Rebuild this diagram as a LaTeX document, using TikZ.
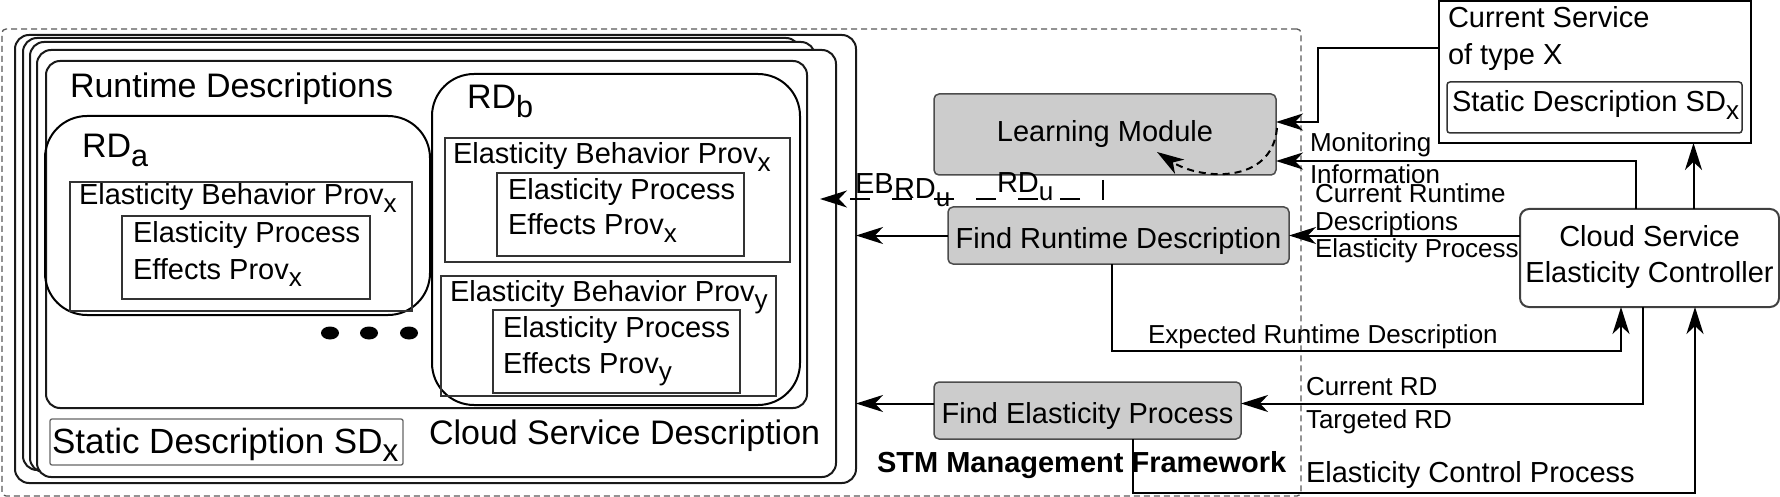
\documentclass[tikz,border=0pt]{standalone}
\usepackage{fontspec}
\setmainfont{Liberation Sans}
\usepackage{graphicx}
\usetikzlibrary{arrows.meta,calc}
\newcommand{\sbs}[1]{\raisebox{-0.25em}{\scalebox{0.9}{#1}}}
\newcommand{\mkbox}[6]{\node[#1,anchor=north west,minimum width={((#5)-(#3))*1pt},minimum height={((#6)-(#4))*1pt}] (#2) at (#3,#4) {};}
\begin{document}
\begin{tikzpicture}[x=1pt,y=-1pt,
  every node/.style={inner sep=0pt,outer sep=0pt},
  frame/.style={draw=black!90,line width=2pt,fill=white,rounded corners=14pt},
  rdshape/.style={draw=black,line width=2pt,rounded corners=42pt},
  ibox/.style={draw=black!80,line width=1.5pt},
  gbox/.style={draw=black!70,line width=1.5pt,fill=black!20,rounded corners=5pt},
  wbox/.style={draw=black!75,line width=2pt,fill=white,rounded corners=9pt},
  conn/.style={line width=2pt,draw=black},
  arr/.style={conn,-{Stealth[length=27pt,width=17pt,inset=8pt]}},
  txt/.style={anchor=base west,font=\fontsize{29}{35}\selectfont},
  ctxt/.style={anchor=base,font=\fontsize{29}{35}\selectfont},
  bigtxt/.style={anchor=base west,font=\fontsize{34}{40}\selectfont},
  lab/.style={anchor=base west,font=\fontsize{26}{31}\selectfont}
]
\useasboundingbox (0,0) rectangle (1780,497);
% outer dashed frame
\mkbox{draw=black!65,line width=1.3pt,dash pattern=on 6pt off 4pt,rounded corners=4pt}{stm}{2}{29}{1301}{496}
% stacked cloud service descriptions
\mkbox{frame}{csdA}{15}{35}{856}{483}
\mkbox{frame}{csdB}{23}{38}{800}{470}
\mkbox{frame}{csdC}{30}{42}{815}{472}
\mkbox{frame}{csdD}{37}{50}{836}{477}
\mkbox{frame}{rdall}{46}{61}{807}{408}
\node[bigtxt] (trd) at (70,98) {Runtime Descriptions};
% RD_a
\mkbox{rdshape}{rda}{45}{116}{430}{315}
\node[bigtxt] (trda) at (82,158) {RD\sbs{a}};
\mkbox{ibox}{ebxa}{70}{182}{412}{311}
\node[txt] (tebxa) at (79,205) {Elasticity Behavior Prov\sbs{x}};
\mkbox{ibox}{epxa}{122}{216}{370}{299}
\node[txt] (tepxa1) at (133,242) {Elasticity Process};
\node[txt] (tepxa2) at (133,279) {Effects Prov\sbs{x}};
% dots
\fill (330,333) ellipse[x radius=9pt,y radius=6.5pt];
\fill (369,333) ellipse[x radius=9pt,y radius=6.5pt];
\fill (409,333) ellipse[x radius=9pt,y radius=6.5pt];
% RD_b
\mkbox{rdshape}{rdb}{432}{74}{800}{405}
\node[bigtxt] (trdb) at (467,109) {RD\sbs{b}};
\mkbox{ibox}{ebxb}{445}{138}{790}{262}
\node[txt] (tebxb) at (453,164) {Elasticity Behavior Prov\sbs{x}};
\mkbox{ibox}{epxb}{497}{173}{744}{256}
\node[txt] (tepxb1) at (508,200) {Elasticity Process};
\node[txt] (tepxb2) at (508,235) {Effects Prov\sbs{x}};
\mkbox{ibox}{ebyb}{441}{276}{776}{396}
\node[txt] (tebyb) at (450,301) {Elasticity Behavior Prov\sbs{y}};
\mkbox{ibox}{epyb}{493}{310}{740}{393}
\node[txt] (tepyb1) at (503,337) {Elasticity Process};
\node[txt] (tepyb2) at (503,373) {Effects Prov\sbs{y}};
% static description (left)
\mkbox{draw=black!60,line width=1.3pt,rounded corners=2pt}{sdl}{50}{419}{403}{465}
\node[anchor=base west,font=\fontsize{35}{42}\selectfont] (tsdl) at (52,453) {Static Description SD\sbs{x}};
\node[bigtxt] (tcsd) at (429,444) {Cloud Service Description};
% STM modules
\mkbox{gbox}{lm}{934}{94}{1276}{175}
\node[ctxt] (tlm) at (1105,142) {Learning Module};
\mkbox{gbox}{frd}{948}{207}{1289}{264}
\node[ctxt] (tfrd) at (1118.5,248) {Find Runtime Description};
\mkbox{gbox}{fep}{934}{382}{1241}{439}
\node[ctxt] (tfep) at (1087.5,423) {Find Elasticity Process};
\node[anchor=base west,font=\fontsize{29}{35}\selectfont\bfseries] (tstm) at (877,472) {STM Management Framework};
% current service
\mkbox{draw=black,line width=2pt}{cs}{1439}{1}{1751}{143}
\node[txt] (tcs1) at (1448,28) {Current Service};
\node[txt] (tcs2) at (1448,65) {of type X};
\mkbox{ibox,rounded corners=3pt}{sdr}{1447}{82}{1742}{133}
\node[txt] (tsdr) at (1452,112) {Static Description SD\sbs{x}};
% controller
\mkbox{wbox}{ctl}{1520}{209}{1779}{307}
\node[ctxt] (tctl1) at (1649.5,247) {Cloud Service};
\node[ctxt] (tctl2) at (1649.5,282) {Elasticity Controller};
% coordinates
\coordinate (csw) at ([yshift=-47pt]cs.north west);
\coordinate (bend1) at (1318,122);
\coordinate (lmin1) at ([yshift=12.5pt]lm.east);
\coordinate (ctlt1) at ([xshift=-13.5pt]ctl.north);
\coordinate (lmin2) at ([yshift=-26.5pt]lm.east);
\coordinate (ctlt2) at ([xshift=44pt]ctl.north);
\coordinate (frdb) at ([xshift=-6.5pt]frd.south);
\coordinate (erd) at (1621,351);
\coordinate (ctlb1) at (1621,307);
\coordinate (ctlb2) at (1643,307);
\coordinate (fepin) at ([yshift=7pt]fep.east);
\coordinate (fepb) at ([xshift=45.5pt]fep.south);
\coordinate (ecp) at (1695,493);
\coordinate (ctlb3) at (1695,307);
\coordinate (fepw) at ([yshift=7pt]fep.west);
\coordinate (lmb) at ([xshift=-2pt]lm.south);
\coordinate (ebtip) at (820,199);
\coordinate (lmc) at (1277,128);
\coordinate (lmtip) at (1157,152);
% connectors
\draw[arr] (csw) -| (bend1) -- (lmin1);
\draw[arr] (ctlt1) |- (lmin2);
\draw[arr] (ctlt2) -- (ctlt2 |- cs.south);
\draw[arr] (ctl.west |- frd.east) -- (frd.east);
\draw[arr] (frdb) |- (erd) -- (ctlb1);
\draw[arr] (ctlb2) |- (fepin);
\draw[arr] (fepb) |- (ecp) -- (ctlb3);
\draw[arr] (frd.west) -- (frd.west -| csdA.east);
\draw[arr] (fepw) -- (fepw -| csdA.east);
\draw[arr,dash pattern=on 20pt off 22pt,dash phase=37pt] (lmb) |- (ebtip);
\draw[arr,dash pattern=on 7pt off 5pt] (lmc) .. controls (1272,185) and (1200,180) .. (lmtip);
% edge labels
\node[txt] (teb) at (855,194) {EB};
\node[txt] (trdu1) at (894,199) {RD\sbs{u}};
\node[txt] (trdu2) at (997,193) {RD\sbs{u}};
\node[lab] (tmon1) at (1310,152) {Monitoring};
\node[lab] (tmon2) at (1310,184) {Information};
\node[lab] (tcr1) at (1315,203) {Current Runtime};
\node[lab] (tcr2) at (1315,230) {Descriptions};
\node[lab] (tcr3) at (1315,257) {Elasticity Process};
\node[lab] (terd) at (1148,343) {Expected Runtime Description};
\node[lab] (tcrd) at (1306,395) {Current RD};
\node[lab] (ttrd) at (1306,428) {Targeted RD};
\node[txt] (tecp) at (1306,482) {Elasticity Control Process};
\end{tikzpicture}
\end{document}
